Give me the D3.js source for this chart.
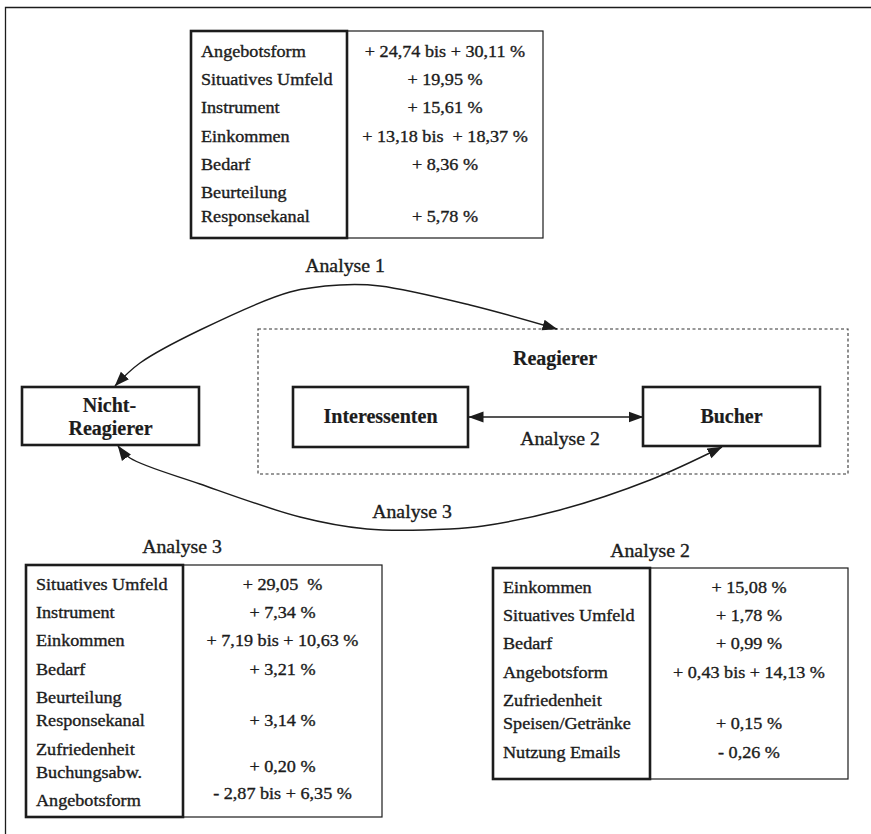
<!DOCTYPE html>
<html><head><meta charset="utf-8">
<script src="https://cdn.jsdelivr.net/npm/d3@7"></script>
<style>body{margin:0;background:#fff}svg{display:block}text{white-space:pre}</style>
</head><body>
<script>
// ---- data ----
const table1Labels = [["Angebotsform"],["Situatives Umfeld"],["Instrument"],["Einkommen"],["Bedarf"],["Beurteilung","Responsekanal"]];
const table1Values = ["+ 24,74 bis + 30,11 %","+ 19,95 %","+ 15,61 %","+ 13,18 bis  + 18,37 %","+ 8,36 %","+ 5,78 %"];
const table3Labels = [["Situatives Umfeld"],["Instrument"],["Einkommen"],["Bedarf"],["Beurteilung","Responsekanal"],["Zufriedenheit","Buchungsabw."],["Angebotsform"]];
const table3Values = ["+ 29,05  %","+ 7,34 %","+ 7,19 bis + 10,63 %","+ 3,21 %","+ 3,14 %","+ 0,20 %","- 2,87 bis + 6,35 %"];
const table2Labels = [["Einkommen"],["Situatives Umfeld"],["Bedarf"],["Angebotsform"],["Zufriedenheit","Speisen/Getränke"],["Nutzung Emails"]];
const table2Values = ["+ 15,08 %","+ 1,78 %","+ 0,99 %","+ 0,43 bis + 14,13 %","+ 0,15 %","- 0,26 %"];
const nodeNames = ["Nicht-|Reagierer","Interessenten","Bucher"];
const groupName = "Reagierer";
const arcLabels = ["Analyse 1","Analyse 2","Analyse 3"];
const tableTitles = ["Analyse 3","Analyse 2"];

// ---- drawing ----
const W=871,H=834, INK="#1c1c1c", SX=1.1;
const svg=d3.select("body").append("svg").attr("width",W).attr("height",H);
const defs=svg.append("defs");
defs.append("marker").attr("id","ah").attr("markerUnits","userSpaceOnUse")
  .attr("viewBox","0 -6 15 12").attr("markerWidth",15).attr("markerHeight",12)
  .attr("refX",14.5).attr("refY",0).attr("orient","auto-start-reverse")
  .append("path").attr("d","M0,-5.5L15,0L0,5.5Z").attr("fill",INK);

function txt(x,y,s,opt={}){
  return svg.append("text")
    .attr("transform",`translate(${x},${y}) scale(${opt.sx||SX},1)`)
    .attr("font-family","'Liberation Serif','Times New Roman',serif")
    .attr("font-size",opt.size||16.5).attr("fill",INK)
    .attr("stroke",INK).attr("stroke-width",opt.bold?0.2:0.35)
    .attr("font-weight",opt.bold?"bold":"normal")
    .attr("text-anchor",opt.anchor||"start").text(s);
}

// outer frame (top & left visible)
svg.append("path").attr("d",`M5.5,${H}V7.5H${W}`).attr("fill","none").attr("stroke",INK).attr("stroke-width",1.3);

// tables
function table(x0,x1,xd,y0,h,labels,values,firstOff){
  svg.append("rect").attr("x",x0).attr("y",y0).attr("width",x1-x0).attr("height",h)
    .attr("fill","none").attr("stroke",INK).attr("stroke-width",1.2);
  svg.append("rect").attr("x",x0).attr("y",y0).attr("width",xd-x0).attr("height",h)
    .attr("fill","none").attr("stroke",INK).attr("stroke-width",2.6);
  let y=y0+firstOff;
  labels.forEach((ls,i)=>{
    ls.forEach((l,j)=>txt(x0+10,y+j*23.5,l));
    const vy=y+(ls.length-1)*23.5 - (ls.length>1 && i===labels.length-2 && labels.length===7 ? 6 : 0) - (i===labels.length-1 && labels.length===7 ? 7 : 0);
    txt((xd+x1)/2,vy,values[i],{anchor:"middle"});
    y+= (ls.length-1)*23.5 + 28.2;
  });
}
table(191,543,347,31,207,table1Labels,table1Values,26);
table(26,382,183,565,252,table3Labels,table3Values,25);
table(493,848,650,568,211,table2Labels,table2Values,25);
txt(182,553,tableTitles[0],{size:18,anchor:"middle"});
txt(650,557,tableTitles[1],{size:18,anchor:"middle"});

// dotted group box
svg.append("rect").attr("x",258).attr("y",329).attr("width",590).attr("height",145)
  .attr("fill","none").attr("stroke","#333").attr("stroke-width",1.1).attr("stroke-dasharray","3,2.5");
txt(555,365,groupName,{size:20,bold:true,anchor:"middle",sx:1.0});

// node boxes
const boxes=[{x:22,y:387,w:177,h:58},{x:293,y:387,w:175,h:60},{x:643,y:387,w:177,h:59}];
boxes.forEach((b,i)=>{
  svg.append("rect").attr("x",b.x).attr("y",b.y).attr("width",b.w).attr("height",b.h)
    .attr("fill","#fff").attr("stroke",INK).attr("stroke-width",2.6);
  const parts=nodeNames[i].split("|");
  if(parts.length===2){
    txt(b.x+b.w/2-1,412,parts[0],{size:20,bold:true,anchor:"middle",sx:1.0});
    txt(b.x+b.w/2,435,parts[1],{size:20,bold:true,anchor:"middle",sx:1.0});
  } else txt(b.x+b.w/2,423,parts[0],{size:20,bold:true,anchor:"middle",sx:1.0});
});

// arrows
const line=d3.line().curve(d3.curveCatmullRom.alpha(0.5));
const arc1=[[115,386],[140,363],[200,330],[290,292],[340,285],[380,286],[470,305],[557,329]];
const arc3=[[118,446],[130,458],[200,484],[300,517],[367,529],[450,529],[483,526],[560,510],[650,480],[722,447]];
[arc1,arc3].forEach(p=>svg.append("path").attr("d",line(p)).attr("fill","none")
  .attr("stroke",INK).attr("stroke-width",1.4)
  .attr("marker-start","url(#ah)").attr("marker-end","url(#ah)"));
svg.append("path").attr("d","M469,417H643").attr("fill","none").attr("stroke",INK).attr("stroke-width",1.3)
  .attr("marker-start","url(#ah)").attr("marker-end","url(#ah)");

txt(345,272,arcLabels[0],{size:18,anchor:"middle"});
txt(560,445,arcLabels[1],{size:18,anchor:"middle"});
txt(412,518,arcLabels[2],{size:18,anchor:"middle"});
</script>
</body></html>
